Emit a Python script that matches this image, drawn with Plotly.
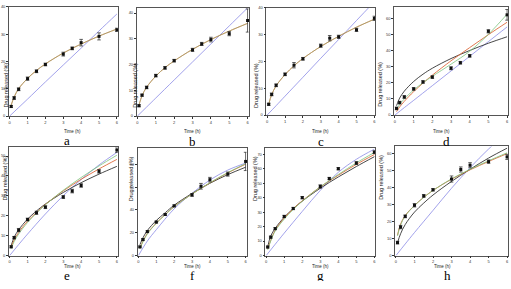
import plotly.graph_objects as go

# ---------------- data ----------------
TIME = [0.083, 0.25, 0.5, 1, 1.5, 2, 3, 3.5, 4, 5, 6]
CURVE_T = [0.083, 0.25, 0.5, 1, 1.5, 2, 3, 4, 5, 6]
BLUE_T = [0, 0.5, 1, 2, 3, 4, 5, 6]
LETTERS = ["a", "b", "c", "d", "e", "f", "g", "h"]

release_a = [3.5, 6.6, 9.8, 13.7, 16.4, 18.9, 22.7, 24.8, 26.9, 29.2, 31.6]
release_b = [4.0, 8.1, 11.1, 15.7, 18.7, 21.5, 25.7, 28.0, 29.7, 32.0, 37.1]
release_c = [4.0, 7.7, 11.1, 15.2, 18.6, 21.0, 25.9, 28.7, 29.2, 31.8, 36.1]
release_d = [4.1, 7.7, 11.2, 16.2, 20.5, 23.5, 29.0, 32.4, 36.7, 51.9, 62.1]
release_e = [4.4, 9.0, 12.8, 18.1, 21.5, 24.3, 29.4, 32.4, 35.2, 42.3, 53.0]
release_f = [7.6, 14.0, 21.0, 29.4, 36.0, 43.6, 53.2, 60.8, 66.6, 71.5, 82.6]
release_g = [5.9, 12.7, 18.6, 27.0, 32.5, 40.0, 47.7, 53.2, 60.0, 63.9, 71.4]
release_h = [7.6, 16.7, 23.0, 29.5, 35.0, 38.6, 44.9, 50.5, 53.0, 55.1, 57.9]

err_a = [0.4, 0.5, 0.5, 0.6, 0.5, 0.5, 0.7, 0.5, 1.2, 1.3, 0.6]
err_b = [0.4, 0.4, 0.5, 0.5, 0.5, 0.5, 0.6, 0.6, 0.9, 0.8, 4.5]
err_c = [0.4, 0.5, 0.5, 0.5, 1.0, 0.5, 0.6, 1.0, 0.6, 0.6, 0.8]
err_d = [0.8, 0.8, 0.8, 0.8, 0.8, 0.8, 0.9, 0.8, 0.8, 1.0, 3.3]
err_e = [0.5, 0.6, 0.8, 0.7, 0.8, 0.7, 0.7, 0.9, 0.9, 0.9, 1.2]
err_f = [0.7, 0.8, 0.8, 0.8, 0.8, 0.8, 1.2, 2.5, 2.0, 1.8, 8.0]
err_g = [0.6, 0.7, 0.7, 0.8, 0.8, 0.8, 1.2, 0.8, 0.8, 1.0, 1.0]
err_h = [0.8, 1.0, 0.8, 1.0, 0.8, 0.7, 1.8, 1.5, 1.5, 1.0, 1.5]

# fitted model curves (at CURVE_T)
red_a = [4.0, 7.0, 10.0, 13.8, 16.7, 19.1, 23.1, 26.4, 29.3, 31.9]
red_b = [4.3, 7.9, 11.2, 15.5, 18.8, 21.4, 25.9, 29.7, 33.0, 36.0]
red_c = [4.0, 7.6, 10.9, 15.1, 18.4, 21.1, 25.6, 29.4, 32.8, 35.8]
red_d = [2.1, 5.0, 8.5, 14.5, 19.8, 24.7, 33.6, 41.8, 49.8, 57.5]
red_e = [4.2, 7.8, 11.6, 17.3, 21.6, 25.7, 32.5, 38.3, 43.5, 48.3]
red_f = [6.5, 12.5, 19.5, 28.5, 36.0, 43.0, 54.0, 63.7, 72.5, 80.2]
red_g = [4.5, 10.5, 17.5, 25.9, 32.3, 37.8, 47.4, 55.5, 63.0, 69.8]
red_h = [12.0, 18.5, 23.5, 29.4, 34.2, 38.2, 44.8, 50.3, 55.2, 59.8]

green_a = red_a
green_b = red_b
green_c = red_c
green_d = [3.5, 6.5, 10.0, 15.5, 20.0, 24.0, 31.5, 39.5, 50.0, 62.5]
green_e = [3.5, 7.0, 10.8, 16.6, 21.3, 25.5, 32.8, 39.2, 45.0, 50.4]
green_f = [6.0, 12.0, 19.0, 28.3, 35.8, 42.8, 54.0, 63.9, 72.8, 80.6]
green_g = [4.0, 10.0, 17.0, 25.2, 31.8, 37.5, 47.5, 56.0, 64.0, 71.2]
green_h = [11.5, 18.0, 23.2, 29.3, 34.1, 38.2, 45.0, 50.6, 55.6, 60.3]

black_a = None
black_b = None
black_c = None
black_d = [5.8, 10.5, 14.8, 20.8, 25.3, 29.0, 35.0, 40.0, 44.5, 48.5]
black_e = [5.0, 9.2, 12.9, 18.3, 22.4, 25.9, 31.7, 36.6, 40.9, 44.8]
black_f = [9.5, 15.5, 22.0, 30.8, 37.6, 44.2, 54.5, 63.4, 71.0, 77.5]
black_g = [6.0, 13.5, 18.8, 26.5, 32.4, 37.6, 46.5, 54.3, 61.5, 68.3]
black_h = [7.5, 12.8, 18.2, 25.5, 30.8, 35.5, 43.5, 50.6, 57.2, 63.0]

blue_a = [0, 3.1, 6.2, 12.5, 18.7, 24.9, 31.2, 37.4]
blue_b = [0, 3.5, 7.0, 14.0, 21.0, 28.0, 35.0, 42.0]
blue_c = [0, 3.5, 7.05, 14.1, 21.2, 28.2, 35.3, 42.3]
blue_d = [0, 4.6, 9.1, 18.2, 27.3, 36.4, 45.5, 54.6]
blue_e = [0, 5.5, 10.8, 20.9, 30.1, 38.2, 45.5, 51.8]
blue_f = [0, 12.8, 22.7, 41.0, 54.7, 66.3, 75.0, 81.1]
blue_g = [0, 7.8, 15.5, 30.5, 45.0, 57.5, 66.5, 73.5]
blue_h = [0, 6.8, 13.5, 26.5, 39.5, 51.5, 62.5, 72.0]

Y_MAX = [40, 42, 40, 67, 54.3, 94, 74, 64]
Y_DTICK = [10, 10, 10, 10, 10, 20, 10, 10]
X_TICKS = [0, 1, 2, 3, 4, 5, 6]

releases = [release_a, release_b, release_c, release_d, release_e, release_f, release_g, release_h]
errs = [err_a, err_b, err_c, err_d, err_e, err_f, err_g, err_h]
reds = [red_a, red_b, red_c, red_d, red_e, red_f, red_g, red_h]
greens = [green_a, green_b, green_c, green_d, green_e, green_f, green_g, green_h]
blacks = [black_a, black_b, black_c, black_d, black_e, black_f, black_g, black_h]
blues = [blue_a, blue_b, blue_c, blue_d, blue_e, blue_f, blue_g, blue_h]

# ---------------- layout geometry (pixels) ----------------
W, H = 511, 289
BOXES = [
    (9, 118, 4, 115), (137, 249, 5, 115), (267, 376, 5, 114), (395, 509, 4, 114),
    (9, 118, 147, 257), (138, 247, 148, 257), (266, 376, 148, 257), (396, 509, 146, 257),
]
YTITLE_X = [1.5, 131.5, 256.5, 385, 1.5, 128, 256, 385]
XTITLE_Y = [131, 131, 131, 131, 272, 272, 272, 272]
LETTER_Y = [140, 141, 141, 141, 283.5, 283.5, 283.5, 283.5]

COL_RED = "#dc6a3c"
COL_GREEN = "#7cc47c"
COL_BLACK = "#333333"
COL_BLUE = "#8a8ae6"

fig = go.Figure()
annotations = []
FONT = "Liberation Sans, Arial, sans-serif"

for i in range(8):
    n = "" if i == 0 else str(i + 1)
    xa, ya = "x" + n, "y" + n
    L, R, T, B = BOXES[i]
    fig.update_layout(**{
        "xaxis" + n: dict(domain=[L / W, R / W], anchor=ya, range=[-0.04, 6.05],
                          tickvals=X_TICKS, ticks="outside", ticklen=2, tickwidth=0.6,
                          tickcolor="#333", showline=True, linecolor="#555", linewidth=0.7,
                          mirror=True, showgrid=False, zeroline=False,
                          tickfont=dict(size=4, color="#333", family=FONT)),
        "yaxis" + n: dict(domain=[1 - B / H, 1 - T / H], anchor=xa, range=[0, Y_MAX[i]],
                          dtick=Y_DTICK[i], tick0=0, ticks="outside", ticklen=2, tickwidth=0.6,
                          tickcolor="#333", showline=True, linecolor="#555", linewidth=0.7,
                          mirror=True, showgrid=False, zeroline=False,
                          tickfont=dict(size=4, color="#333", family=FONT)),
    })
    fig.add_trace(go.Scatter(x=BLUE_T, y=blues[i], mode="lines", xaxis=xa, yaxis=ya,
                             line=dict(color=COL_BLUE, width=0.8, shape="spline"),
                             showlegend=False))
    if blacks[i] is not None:
        fig.add_trace(go.Scatter(x=CURVE_T, y=blacks[i], mode="lines", xaxis=xa, yaxis=ya,
                                 line=dict(color=COL_BLACK, width=0.9, shape="spline"),
                                 showlegend=False))
    fig.add_trace(go.Scatter(x=CURVE_T, y=reds[i], mode="lines", xaxis=xa, yaxis=ya,
                             line=dict(color=COL_RED, width=0.9, shape="spline"),
                             showlegend=False))
    fig.add_trace(go.Scatter(x=CURVE_T, y=greens[i], mode="lines", xaxis=xa, yaxis=ya,
                             line=dict(color=COL_GREEN, width=0.8, shape="spline"),
                             opacity=0.6 if i < 3 else 1, showlegend=False))
    fig.add_trace(go.Scatter(x=TIME, y=releases[i], mode="markers", xaxis=xa, yaxis=ya,
                             marker=dict(symbol="square", size=3, color="#111"),
                             error_y=dict(type="data", array=errs[i], color="#222",
                                          thickness=0.7, width=1.8),
                             showlegend=False, cliponaxis=False))
    annotations.append(dict(text="Time (h)", x=(L + R) / 2 / W, y=1 - XTITLE_Y[i] / H,
                            xref="paper", yref="paper", showarrow=False, height=5,
                            borderpad=0, valign="middle",
                            font=dict(size=4.5, color="#222", family=FONT)))
    annotations.append(dict(text="Drug released (%)", x=YTITLE_X[i] / W, y=1 - ((T + B) / 2) / H,
                            xref="paper", yref="paper", showarrow=False, textangle=-90,
                            borderpad=0,
                            font=dict(size=5.5, color="#222", family=FONT)))
    annotations.append(dict(text=LETTERS[i], x=(L + R) / 2 / W, y=1 - LETTER_Y[i] / H,
                            xref="paper", yref="paper", showarrow=False, height=11,
                            borderpad=0, valign="middle",
                            font=dict(size=13, color="#000",
                                      family="Liberation Serif, Times New Roman, serif")))

fig.update_layout(width=W, height=H, margin=dict(l=0, r=0, t=0, b=0),
                  paper_bgcolor="white", plot_bgcolor="white",
                  annotations=annotations, showlegend=False)

fig.write_html("out.html")
